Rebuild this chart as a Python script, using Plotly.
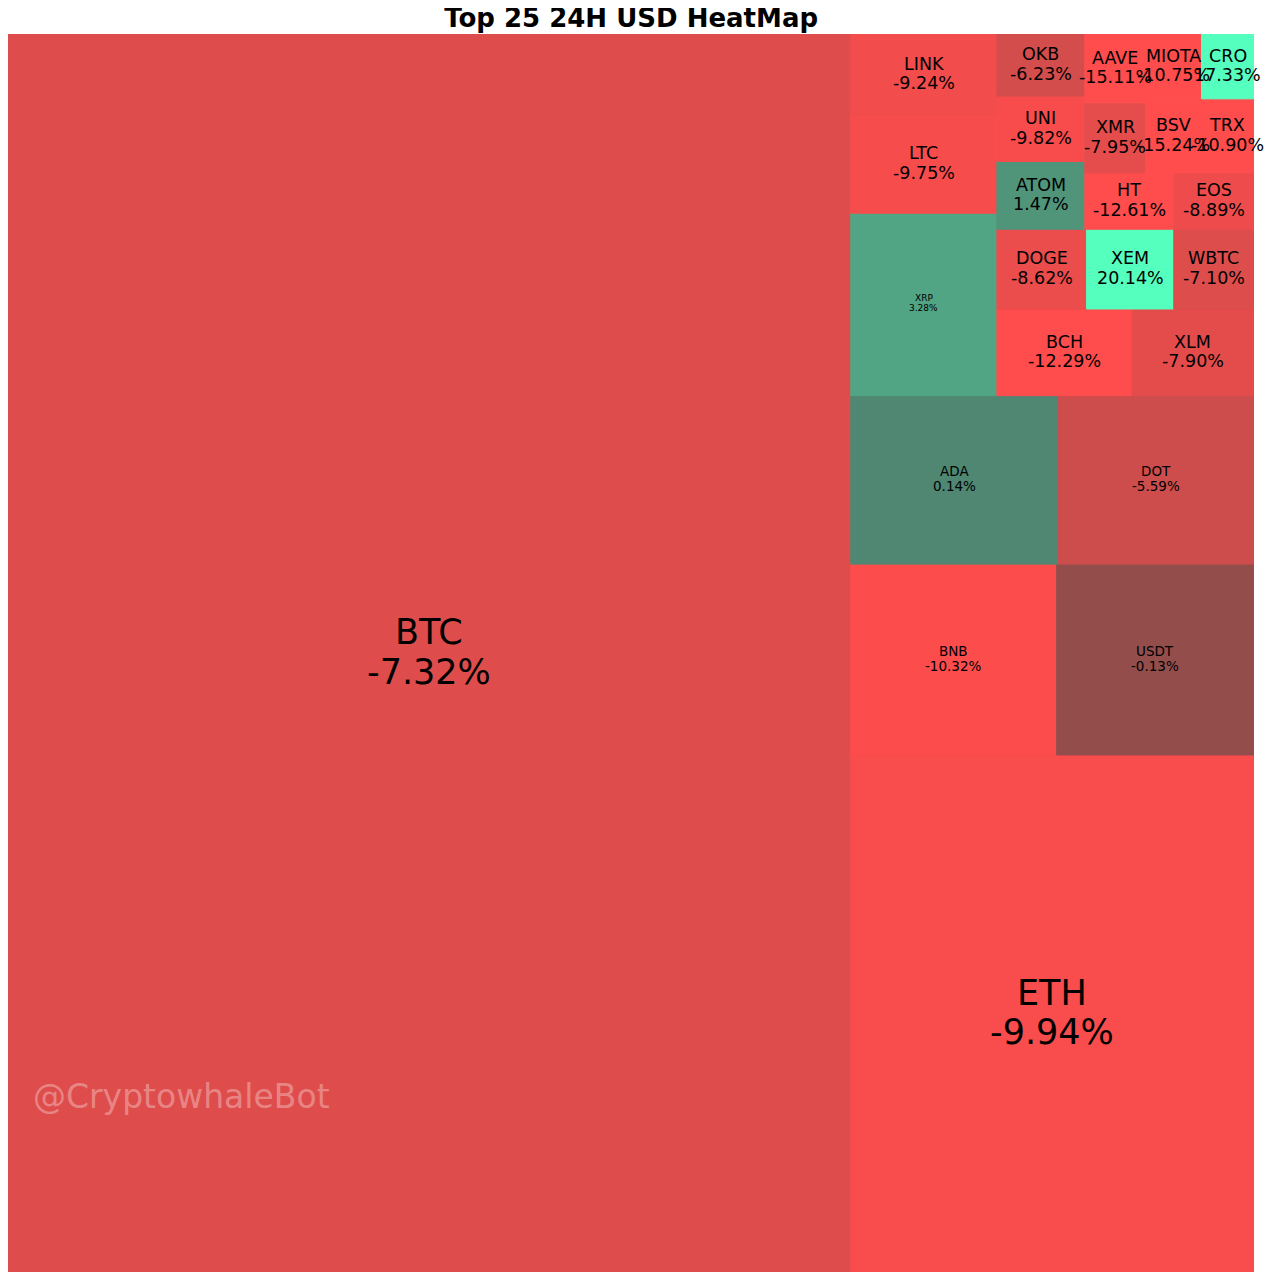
import plotly.graph_objects as go

# ---------------- data ----------------
coins = ["BTC", "ETH", "BNB", "USDT", "ADA", "DOT", "XRP", "LTC", "LINK", "BCH",
         "XLM", "DOGE", "XEM", "WBTC", "ATOM", "UNI", "OKB", "HT", "EOS", "XMR",
         "AAVE", "BSV", "TRX", "MIOTA", "CRO"]
market_cap_bn = [900.3, 179.9, 33.9, 32.5, 30.2, 28.4, 23.0, 12.4, 10.2, 10.1,
                 9.13, 6.17, 6.00, 5.52, 5.14, 4.96, 4.71, 4.34, 3.89, 3.67,
                 3.60, 3.53, 3.40, 3.13, 2.94]
change_24h = [-7.32, -9.94, -10.32, -0.13, 0.14, -5.59, 3.28, -9.75, -9.24, -12.29,
              -7.90, -8.62, 20.14, -7.10, 1.47, -9.82, -6.23, -12.61, -8.89, -7.95,
              -15.11, -15.24, -10.90, -10.75, 17.33]

# label font sizes (style)
label_size = {"BTC": 35, "ETH": 35, "BNB": 13.5, "USDT": 13.5, "ADA": 13.5, "DOT": 13.5,
              "XRP": 9}
default_label_size = 17.5

# ---------------- squarify layout ----------------
def normalize_sizes(sizes, dx, dy):
    total = float(sum(sizes))
    return [s * dx * dy / total for s in sizes]

def layoutrow(sizes, x, y, dx, dy):
    width = sum(sizes) / dy
    rects = []
    for s in sizes:
        rects.append((x, y, width, s / width))
        y += s / width
    return rects

def layoutcol(sizes, x, y, dx, dy):
    height = sum(sizes) / dx
    rects = []
    for s in sizes:
        rects.append((x, y, s / height, height))
        x += s / height
    return rects

def layout(sizes, x, y, dx, dy):
    return layoutrow(sizes, x, y, dx, dy) if dx >= dy else layoutcol(sizes, x, y, dx, dy)

def leftover(sizes, x, y, dx, dy):
    if dx >= dy:
        w = sum(sizes) / dy
        return x + w, y, dx - w, dy
    h = sum(sizes) / dx
    return x, y + h, dx, dy - h

def worst_ratio(sizes, x, y, dx, dy):
    return max(max(r[2] / r[3], r[3] / r[2]) for r in layout(sizes, x, y, dx, dy))

def squarify(sizes, x, y, dx, dy):
    sizes = list(map(float, sizes))
    if len(sizes) == 0:
        return []
    if len(sizes) == 1:
        return layout(sizes, x, y, dx, dy)
    i = 1
    while i < len(sizes) and worst_ratio(sizes[:i], x, y, dx, dy) >= worst_ratio(sizes[:i + 1], x, y, dx, dy):
        i += 1
    current, remaining = sizes[:i], sizes[i:]
    lx, ly, ldx, ldy = leftover(current, x, y, dx, dy)
    return layout(current, x, y, dx, dy) + squarify(remaining, lx, ly, ldx, ldy)

NX, NY = 100.0, 100.0
rects = squarify(normalize_sizes(market_cap_bn, NX, NY), 0, 0, NX, NY)

# ---------------- colours ----------------
def change_color(v):
    if v < 0:
        t = min(-v / 10.5, 1.0)
        r, g, b = 146 + 109 * t, 78 - 2 * t, 76
    else:
        t = min(v / 13.0, 1.0)
        r, g, b = 79 + 6 * t, 134 + 121 * t, 113 + 77 * t
    return "rgb(%d,%d,%d)" % (round(r), round(g), round(b))

fig = go.Figure()
annotations = []
for name, cap, chg, (x, y, dx, dy) in zip(coins, market_cap_bn, change_24h, rects):
    col = change_color(chg)
    fig.add_trace(go.Scatter(
        x=[x, x + dx, x + dx, x, x], y=[y, y, y + dy, y + dy, y],
        fill="toself", fillcolor=col, mode="lines",
        line=dict(width=1, color=col),
        hoverinfo="text", text="%s<br>%.2f%%<br>$%.1fB" % (name, chg, cap),
        showlegend=False))
for name, chg, (x, y, dx, dy) in zip(coins, change_24h, rects):
    fs = label_size.get(name, default_label_size)
    cx, cy = x + dx / 2, y + dy / 2
    annotations.append(dict(x=cx, y=cy, xref="x", yref="y", text=name, showarrow=False,
                            yshift=0.56 * fs + 1, font=dict(size=fs, color="#000000",
                            family="DejaVu Sans")))
    annotations.append(dict(x=cx, y=cy, xref="x", yref="y", text="%.2f%%" % chg,
                            showarrow=False, yshift=-0.56 * fs + 1,
                            font=dict(size=fs, color="#000000", family="DejaVu Sans")))

annotations.append(dict(x=1.85, y=0.142, xref="x", yref="paper", xanchor="left",
                        yanchor="middle", text="@CryptowhaleBot", showarrow=False,
                        font=dict(size=33, color="rgba(255,255,255,0.32)",
                                  family="DejaVu Sans")))

fig.update_layout(
    width=1257, height=1264,
    margin=dict(l=0, r=11, t=26, b=0),
    paper_bgcolor="white", plot_bgcolor="white",
    title=dict(text="<b>Top 25 24H USD HeatMap</b>", x=0.4957, xanchor="center",
               y=0.992, yanchor="middle",
               font=dict(size=26, color="black", family="DejaVu Sans")),
    xaxis=dict(range=[0, NX], visible=False, fixedrange=True),
    yaxis=dict(range=[0, NY], visible=False, fixedrange=True),
    annotations=annotations,
)

fig.write_html("out.html")
